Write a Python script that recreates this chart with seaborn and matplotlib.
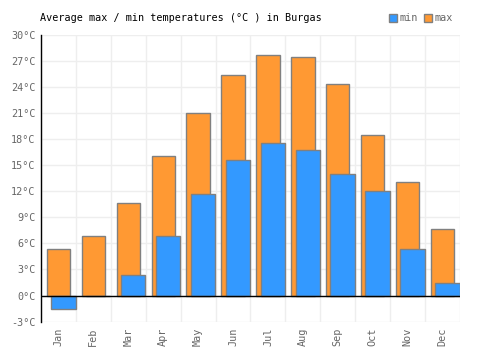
import pandas as pd
import matplotlib.pyplot as plt
import matplotlib.patches as mpatches
import seaborn as sns
import numpy as np

months = ['Jan', 'Feb', 'Mar', 'Apr', 'May', 'Jun', 'Jul', 'Aug', 'Sep', 'Oct', 'Nov', 'Dec']
t_max = [5.4, 6.9, 10.6, 16.1, 21.0, 25.4, 27.7, 27.4, 24.3, 18.5, 13.1, 7.7]
t_min = [-1.5, -0.1, 2.4, 6.9, 11.7, 15.6, 17.5, 16.7, 14.0, 12.0, 5.4, 1.5]
yticks = list(range(-3, 31, 3))

blue = '#3399ff'
orange = '#ff9933'
edge = '#808080'

sns.set_style("white")
plt.rcParams['font.family'] = ['DejaVu Sans Mono', 'DejaVu Sans']

temps = pd.DataFrame({'month': months, 'max': t_max, 'min': t_min})
temps['pos'] = np.arange(len(months))

fig = plt.figure(figsize=(5, 3.5), dpi=100)
ax = fig.add_axes([0.082, 0.081, 0.838, 0.82])

# max bars behind, min bars shifted a bit to the right on top
sns.barplot(x=temps['pos'], y=temps['max'], native_scale=True, width=0.67,
            color=orange, saturation=1, edgecolor=edge, linewidth=1, ax=ax, zorder=2)
sns.barplot(x=temps['pos'] + 0.14, y=temps['min'], native_scale=True, width=0.70,
            color=blue, saturation=1, edgecolor=edge, linewidth=1, ax=ax, zorder=3)

ax.set_xlim(-0.5, 11.5)
ax.set_ylim(-3, 30)
ax.set_yticks(yticks)
ax.set_yticklabels([f'{v}°C' for v in yticks])
ax.set_xticks(temps['pos'])
ax.set_xticklabels(months, rotation=90)
ax.set_xticks(np.arange(-0.5, 12, 1), minor=True)
ax.tick_params(axis='both', which='both', length=0, labelsize=7.3, labelcolor='#666666', pad=4)
ax.set_xlabel('')
ax.set_ylabel('')

ax.grid(axis='y', which='major', color='#eeeeee', linewidth=1, zorder=0)
ax.grid(axis='x', which='minor', color='#eeeeee', linewidth=1, zorder=0)
ax.set_axisbelow(True)
ax.axhline(0, color='black', linewidth=1, zorder=4)

for side in ['top', 'right', 'bottom']:
    ax.spines[side].set_visible(False)
ax.spines['left'].set_color('black')
ax.spines['left'].set_linewidth(1)

fig.text(0.08, 0.948, 'Average max / min temperatures (°C ) in Burgas',
         fontsize=7.3, color='black', ha='left', va='center')

handles = [mpatches.Patch(facecolor=blue, edgecolor=edge, label='min'),
           mpatches.Patch(facecolor=orange, edgecolor=edge, label='max')]
fig.legend(handles=handles, loc='center right', bbox_to_anchor=(0.915, 0.948), ncol=2,
           frameon=False, fontsize=7.3, labelcolor='#666666', handlelength=0.8,
           handleheight=0.8, handletextpad=0.2, columnspacing=0.6, borderpad=0)

fig.savefig('out.png', dpi=100)
